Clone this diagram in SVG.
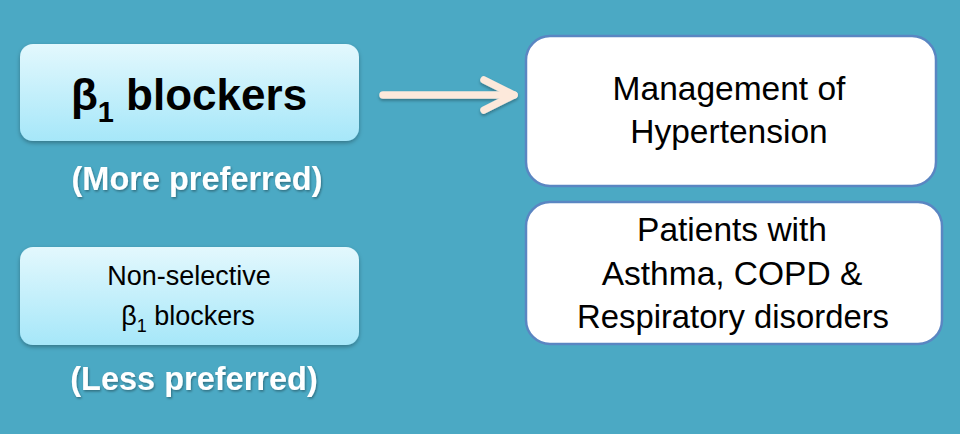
<svg xmlns="http://www.w3.org/2000/svg" width="960" height="434" viewBox="0 0 960 434">
<defs>
<linearGradient id="lb" x1="0" y1="0" x2="0" y2="1">
<stop offset="0" stop-color="#E3F8FD"/>
<stop offset="1" stop-color="#A6E7F9"/>
</linearGradient>
<filter id="sh" x="-10%" y="-10%" width="120%" height="130%">
<feDropShadow dx="0" dy="2" stdDeviation="2" flood-color="#000" flood-opacity="0.3"/>
</filter>
<filter id="ash" filterUnits="userSpaceOnUse" x="360" y="60" width="180" height="70">
<feDropShadow dx="0" dy="2" stdDeviation="1.5" flood-color="#000" flood-opacity="0.3"/>
</filter>
<filter id="ts" x="-5%" y="-20%" width="110%" height="140%">
<feDropShadow dx="1" dy="1.5" stdDeviation="1" flood-color="#000" flood-opacity="0.35"/>
</filter>
<marker id="ah" viewBox="0 0 44 40" refX="34" refY="20" markerWidth="44" markerHeight="40" markerUnits="userSpaceOnUse" orient="auto">
<path d="M4 5 L34 20 L4 35" fill="none" stroke="#FDE9DB" stroke-width="7.5" stroke-linecap="round" stroke-linejoin="round"/>
</marker>
</defs>
<style>
.lb{fill:url(#lb);filter:url(#sh)}
.wb{fill:#fff;stroke:#5A86C2;stroke-width:2.5}
text{font-family:"Liberation Sans",Arial,sans-serif;text-anchor:middle;fill:#000}
.w{fill:#fff;font-weight:bold;font-size:32.5px;filter:url(#ts)}
.t{font-size:33.5px}
.s{font-size:27px}
</style>
<rect width="960" height="434" fill="#4BA9C4"/>
<g id="n1">
<rect class="lb" x="20" y="44" width="339" height="97" rx="13"/>
<text x="189" y="110" font-size="44" font-weight="bold">β<tspan font-size="29" dy="12">1</tspan><tspan dy="-12"> blockers</tspan></text>
</g>
<g id="l1"><text class="w" x="197" y="190">(More preferred)</text></g>
<g id="n2">
<rect class="lb" x="20" y="247" width="339" height="98" rx="13"/>
<text class="s" x="189" y="285">Non-selective</text>
<text class="s" x="188" y="325">β<tspan font-size="18" dy="7">1</tspan><tspan dy="-7"> blockers</tspan></text>
</g>
<g id="l2"><text class="w" x="194" y="390">(Less preferred)</text></g>
<g id="n3">
<rect class="wb" x="526" y="36" width="410" height="150" rx="24"/>
<text class="t" x="729" y="100">Management of</text>
<text class="t" x="729" y="143">Hypertension</text>
</g>
<g id="n4">
<rect class="wb" x="526" y="202" width="416" height="142" rx="24"/>
<text class="t" x="732" y="241">Patients with</text>
<text class="t" x="732" y="285">Asthma, COPD &amp;</text>
<text class="t" x="733" y="328" textLength="312" lengthAdjust="spacingAndGlyphs">Respiratory disorders</text>
</g>
<g id="connectors" filter="url(#ash)">
<line x1="383" y1="95" x2="514" y2="95" stroke="#FDE9DB" stroke-width="7.5" stroke-linecap="round" marker-end="url(#ah)"/>
</g>
</svg>
